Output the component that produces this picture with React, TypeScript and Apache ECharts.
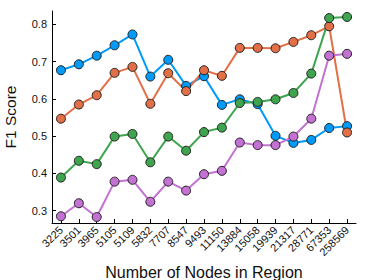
import React, { useEffect, useRef } from "react";
import * as echarts from "echarts";

const categories = ["3225","3501","3965","5105","5109","5832","7707","8547","9493","11150","13884","15058","19939","21317","28771","67353","258569"];
const blueValues = [0.677,0.693,0.716,0.744,0.773,0.660,0.705,0.635,0.661,0.584,0.599,0.586,0.501,0.482,0.490,0.522,0.527];
const orangeValues = [0.547,0.585,0.610,0.670,0.686,0.587,0.669,0.621,0.677,0.662,0.737,0.737,0.736,0.753,0.771,0.795,0.510];
const greenValues = [0.389,0.434,0.425,0.499,0.506,0.430,0.499,0.461,0.511,0.523,0.589,0.592,0.599,0.616,0.668,0.817,0.820];
const purpleValues = [0.285,0.320,0.283,0.378,0.383,0.324,0.378,0.354,0.398,0.407,0.483,0.476,0.476,0.499,0.547,0.716,0.721];
const yTicks = [0.3,0.4,0.5,0.6,0.7,0.8];

const seriesDefs = [
  { name: "blue", data: blueValues, color: "#009AFA" },
  { name: "orange", data: orangeValues, color: "#E36F47" },
  { name: "green", data: greenValues, color: "#3EA44E" },
  { name: "purple", data: purpleValues, color: "#C371D2" },
];

export default function App() {
  const ref = useRef<HTMLDivElement>(null);
  useEffect(() => {
    if (!ref.current) return;
    const chart = echarts.init(ref.current, undefined, { renderer: "svg" });
    const font = "Liberation Sans, Arial, sans-serif";
    chart.setOption({
      animation: false,
      grid: { left: 52, right: 18, top: 11, bottom: 57, containLabel: false, outerBoundsMode: "none" },
      xAxis: {
        type: "category",
        data: categories,
        boundaryGap: true,
        name: "Number of Nodes in Region",
        nameLocation: "middle",
        nameGap: 41,
        nameTextStyle: { fontSize: 16, color: "#111", fontFamily: font },
        axisLine: { show: true, lineStyle: { color: "#000", width: 1 } },
        axisTick: { show: true, inside: true, alignWithLabel: true, length: 4, lineStyle: { color: "#000" } },
        axisLabel: { rotate: 45, fontSize: 11, color: "#111", fontFamily: font, margin: 5, interval: 0 },
        splitLine: { show: false },
      },
      yAxis: {
        type: "value",
        min: 0.267,
        max: 0.836,
        name: "F1 Score",
        nameLocation: "middle",
        nameGap: 34,
        nameTextStyle: { fontSize: 15.5, color: "#111", fontFamily: font },
        axisLine: { show: true, lineStyle: { color: "#000", width: 1 } },
        axisTick: { show: true, inside: true, length: 4, customValues: yTicks, lineStyle: { color: "#000" } },
        axisLabel: { fontSize: 11, color: "#111", fontFamily: font, margin: 5, customValues: yTicks, formatter: (v: number) => v.toFixed(1) },
        splitLine: { show: false },
      },
      series: seriesDefs.map((s) => ({
        name: s.name,
        type: "line",
        data: s.data,
        symbol: "circle",
        symbolSize: 9,
        showAllSymbol: true,
        lineStyle: { color: s.color, width: 2 },
        itemStyle: { color: s.color, borderColor: "#222", borderWidth: 1 },
      })),
    });
    return () => chart.dispose();
  }, []);
  return <div ref={ref} style={{ width: 374, height: 280, position: "absolute", left: 0, top: 0 }} />;
}
